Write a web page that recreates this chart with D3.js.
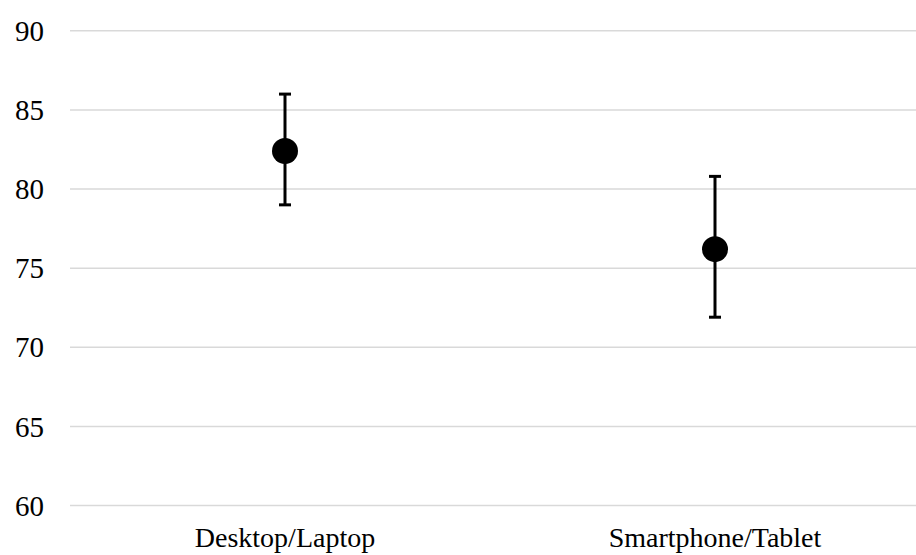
<!DOCTYPE html>
<html>
<meta charset="utf-8">
<title>Device scores</title>
<style>
  body { margin: 0; background: #fff; }
  .grid line { stroke: #d9d9d9; stroke-width: 1.5px; }
  .lbl { font-family: "Liberation Serif", "Times New Roman", serif; fill: #000; }
  .err { stroke: #000; stroke-width: 3px; fill: none; }
</style>
<body>
<div id="chart"></div>
<script src="https://d3js.org/d3.v7.min.js"></script>
<script>
// values
var categories = ["Desktop/Laptop", "Smartphone/Tablet"];
var means = [82.4, 76.2];
var upper = [86.0, 80.8];
var lower = [79.0, 71.9];
var yTicks = [60, 65, 70, 75, 80, 85, 90];

var width = 916, height = 555;

var svg = d3.select("#chart").append("svg")
    .attr("width", width)
    .attr("height", height);

var x = d3.scaleBand()
    .domain(categories)
    .range([70, 930]);

var y = d3.scaleLinear()
    .domain([60, 90])
    .range([505.5, 30.8]);

// gridlines
svg.append("g")
    .attr("class", "grid")
  .selectAll("line")
    .data(yTicks)
  .enter().append("line")
    .attr("x1", 70)
    .attr("x2", width)
    .attr("y1", function(d) { return y(d); })
    .attr("y2", function(d) { return y(d); });

// y tick labels
svg.append("g")
  .selectAll("text")
    .data(yTicks)
  .enter().append("text")
    .attr("class", "lbl")
    .attr("x", 44)
    .attr("y", function(d) { return y(d); })
    .attr("dy", "0.35em")
    .attr("text-anchor", "end")
    .style("font-size", "29px")
    .text(function(d) { return d; });

// category labels (kept just inside the bottom edge)
svg.append("g")
  .selectAll("text")
    .data(categories)
  .enter().append("text")
    .attr("class", "lbl")
    .attr("x", function(d) { return x(d) + x.bandwidth() / 2; })
    .attr("y", 547)
    .attr("text-anchor", "middle")
    .style("font-size", "28px")
    .text(function(d) { return d; });

var pts = categories.map(function(c, i) {
  return { cat: c, mean: means[i], hi: upper[i], lo: lower[i] };
});

var g = svg.append("g")
  .selectAll("g")
    .data(pts)
  .enter().append("g")
    .attr("transform", function(d) { return "translate(" + (x(d.cat) + x.bandwidth() / 2) + ",0)"; });

g.append("line")
    .attr("class", "err")
    .attr("y1", function(d) { return y(d.hi); })
    .attr("y2", function(d) { return y(d.lo); });

g.append("line")
    .attr("class", "err")
    .attr("x1", -6).attr("x2", 6)
    .attr("y1", function(d) { return y(d.hi); })
    .attr("y2", function(d) { return y(d.hi); });

g.append("line")
    .attr("class", "err")
    .attr("x1", -6).attr("x2", 6)
    .attr("y1", function(d) { return y(d.lo); })
    .attr("y2", function(d) { return y(d.lo); });

g.append("circle")
    .attr("cy", function(d) { return y(d.mean); })
    .attr("r", 13)
    .attr("fill", "#000");
</script>
</body>
</html>
